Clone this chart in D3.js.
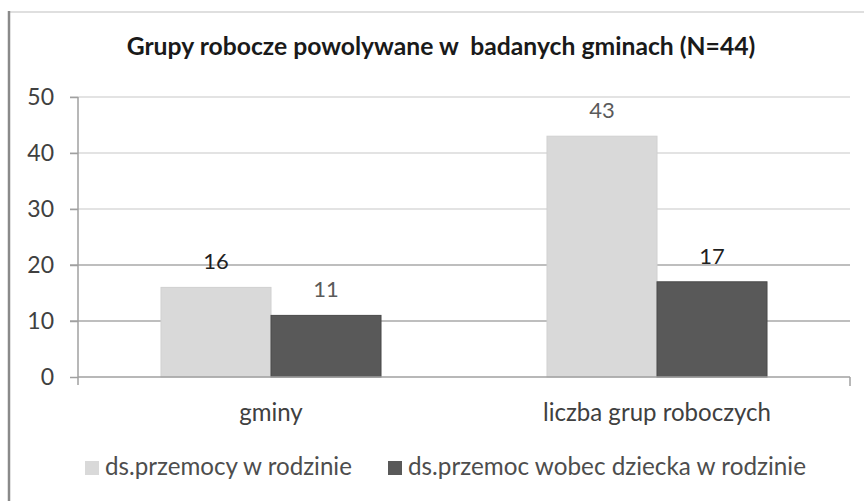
<!DOCTYPE html>
<meta charset="utf-8">
<script src="https://d3js.org/d3.v7.min.js"></script>
<style>
  body { margin: 0; background: #fff; }
  text { font-family: Lato, "Open Sans", sans-serif; }
</style>
<div id="chart"></div>
<script>

// chart data
const title = "Grupy robocze powolywane w  badanych gminach (N=44)";
const categories = ["gminy", "liczba grup roboczych"];
const seriesNames = ["ds.przemocy w rodzinie", "ds.przemoc wobec dziecka w rodzinie"];
const przemocRodzina = [16, 43];
const przemocDziecko = [11, 17];
const yTicks = [0, 10, 20, 30, 40, 50];

const seriesValues = [przemocRodzina, przemocDziecko];
const colors = ["#d9d9d9", "#595959"];

const W = 864, H = 501;
const margin = {top: 97, right: 14, bottom: 124, left: 78};
const width = W - margin.left - margin.right,
      height = H - margin.top - margin.bottom;

const svg = d3.select("#chart").append("svg")
  .attr("width", W).attr("height", H);

// outer frame (left + top edge of the pasted chart)
svg.append("line").attr("x1", 8).attr("x2", W).attr("y1", 12).attr("y2", 12)
  .attr("stroke", "#d4d4d4").attr("stroke-width", 1.5);
svg.append("line").attr("x1", 9).attr("x2", 9).attr("y1", 11).attr("y2", H)
  .attr("stroke", "#8a8a8a").attr("stroke-width", 2.5);

// scale a text to a target width
function fit(sel, target) {
  const fs = parseFloat(sel.attr("font-size"));
  const w = sel.node().getComputedTextLength();
  sel.attr("font-size", (fs * target / w).toFixed(2));
}

svg.append("text")
  .attr("x", 441).attr("y", 55)
  .attr("text-anchor", "middle")
  .attr("font-size", 18).attr("font-weight", "bold")
  .attr("fill", "#1a1a1a")
  .attr("xml:space", "preserve")
  .text(title)
  .call(fit, 629);

const g = svg.append("g")
  .attr("transform", `translate(${margin.left},${margin.top})`);

const x0 = d3.scaleBand().domain(categories).range([0, width]);
const gap = x0.bandwidth() * 0.215;
const x1 = d3.scaleBand().domain(d3.range(seriesNames.length))
  .range([gap, x0.bandwidth() - gap]);
const y = d3.scaleLinear().domain([0, 50]).range([height, 0]);

// gridlines
g.append("g").selectAll("line").data(yTicks.filter(d => d > 0)).join("line")
  .attr("x1", -8).attr("x2", width)
  .attr("y1", d => y(d)).attr("y2", d => y(d))
  .attr("stroke", d => d >= 30 ? "#dadada" : "#a8a8a8")
  .attr("stroke-width", 1.5);

// y axis
const yAxis = g.append("g")
  .call(d3.axisLeft(y).tickValues(yTicks).tickSize(8).tickPadding(16));
yAxis.select(".domain").remove();
yAxis.selectAll(".tick line").attr("stroke", "#a0a0a0").attr("stroke-width", 1.5);
yAxis.selectAll(".tick text").attr("font-size", 23).attr("fill", "#404040")
  .attr("font-family", "Lato, sans-serif");
g.append("line").attr("x1", 0).attr("x2", 0).attr("y1", 0).attr("y2", height + 8)
  .attr("stroke", "#a0a0a0").attr("stroke-width", 1.5);

// bars
const groups = g.append("g").selectAll("g").data(categories).join("g")
  .attr("transform", d => `translate(${x0(d)},0)`);

groups.selectAll("rect")
  .data((c, i) => seriesValues.map((vals, s) => ({s, v: vals[i]})))
  .join("rect")
  .attr("x", d => x1(d.s))
  .attr("width", x1.bandwidth())
  .attr("y", d => y(d.v))
  .attr("height", d => height - y(d.v))
  .attr("fill", d => colors[d.s])
  .attr("stroke", d => d.s === 1 ? "#4a4a4a" : "#d0d0d0")
  .attr("stroke-width", 1);

groups.selectAll("text.val")
  .data((c, i) => seriesValues.map((vals, s) => ({s, v: vals[i], i})))
  .join("text")
  .attr("class", "val")
  .attr("x", d => x1(d.s) + x1.bandwidth() / 2)
  .attr("y", d => y(d.v) - 18)
  .attr("text-anchor", "middle")
  .attr("font-size", 22)
  .attr("fill", d => (d.s === d.i) ? "#1f1f1f" : "#5a5a5a")
  .text(d => d.v);

// x axis
g.append("line").attr("x1", 0).attr("x2", width).attr("y1", height).attr("y2", height)
  .attr("stroke", "#a0a0a0").attr("stroke-width", 1.5);
g.append("line").attr("x1", width).attr("x2", width).attr("y1", height).attr("y2", height + 9)
  .attr("stroke", "#a0a0a0").attr("stroke-width", 1.5);

const catLabels = g.append("g").selectAll("text").data(categories).join("text")
  .attr("x", d => x0(d) + x0.bandwidth() / 2)
  .attr("y", height + 44)
  .attr("text-anchor", "middle")
  .attr("font-size", 20)
  .attr("fill", "#404040")
  .text(d => d);
// size both labels so the long one matches the reference width
const longest = catLabels.filter((d, i) => i === 1);
longest.call(fit, 228);
catLabels.attr("font-size", longest.attr("font-size"));

// legend
const legendX = [85, 388];
const legendW = [249, 400];
const leg = svg.append("g").selectAll("g").data(seriesNames).join("g")
  .attr("transform", (d, i) => `translate(${legendX[i]},461)`);
leg.append("rect").attr("width", 14).attr("height", 14)
  .attr("fill", (d, i) => colors[i]);
leg.append("text").attr("x", 20).attr("y", 14)
  .attr("font-size", 20).attr("fill", "#4d4d4d")
  .text(d => d)
  .each(function(d, i) { d3.select(this).call(fit, legendW[i] - 2); });

</script>
